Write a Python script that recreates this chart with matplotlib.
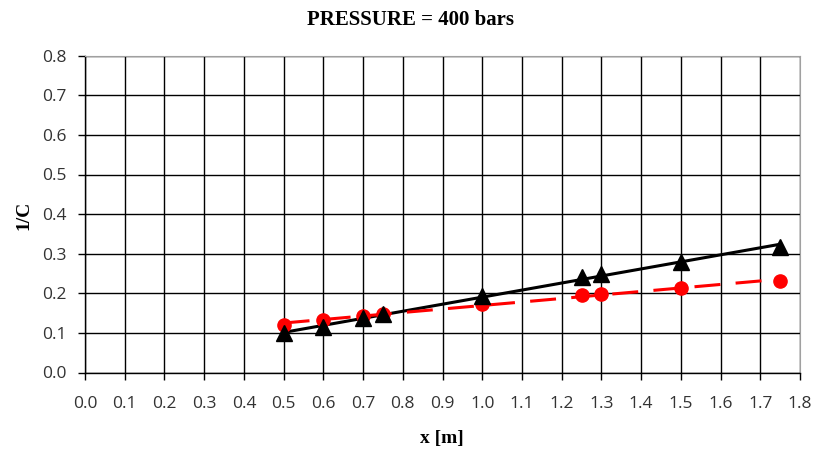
import numpy as np
import matplotlib
matplotlib.use("Agg")
import matplotlib.pyplot as plt

# Measurements at 400 bar
x_tri = [0.5, 0.6, 0.7, 0.75, 1.0, 1.25, 1.3, 1.5, 1.75]
inv_c_tri = [0.100, 0.114, 0.137, 0.147, 0.192, 0.241, 0.248, 0.278, 0.318]

x_circ = [0.5, 0.6, 0.7, 0.75, 1.0, 1.25, 1.3, 1.5, 1.75]
inv_c_circ = [0.121, 0.132, 0.143, 0.147, 0.174, 0.195, 0.199, 0.213, 0.230]

title = "PRESSURE = 400 bars"
xlabel = "x [m]"
ylabel = "1/C"

fig = plt.figure(figsize=(8.17, 4.55), dpi=100)
ax = fig.add_axes([85 / 817, (455 - 372.5) / 455, (800 - 85) / 817, (372.5 - 55.7) / 455])

ax.set_xlim(0, 1.8)
ax.set_ylim(0, 0.8)
ax.set_xticks(np.arange(0, 1.81, 0.1))
ax.set_yticks(np.arange(0, 0.81, 0.1))
ax.set_xticklabels([f"{v:.1f}" for v in np.arange(0, 1.81, 0.1)])
ax.set_yticklabels([f"{v:.1f}" for v in np.arange(0, 0.81, 0.1)])
ax.grid(True, color="black", linewidth=1.0)
ax.set_axisbelow(True)

for side in ("top", "right"):
    ax.spines[side].set_color("#a0a0a0")
for side in ("left", "bottom"):
    ax.spines[side].set_color("black")
    ax.spines[side].set_linewidth(1.0)

ax.tick_params(direction="out", length=5, width=1, colors="black",
               labelsize=12.5)
ax.tick_params(axis="x", pad=12)
ax.tick_params(axis="y", pad=8)
for lab in ax.get_xticklabels() + ax.get_yticklabels():
    lab.set_color("#333333")
    lab.set_family(["Open Sans", "DejaVu Sans"])

# linear trend lines
xs = np.array([0.5, 1.75])
p_tri = np.polyfit(x_tri, inv_c_tri, 1)
p_circ = np.polyfit(x_circ, inv_c_circ, 1)
ax.plot(xs, np.polyval(p_tri, xs), color="black", linewidth=2.2, zorder=3)
ax.plot(xs, np.polyval(p_circ, xs), color="#ff0000", linewidth=2.2,
        dashes=(8.5, 5), zorder=3)

ax.plot(x_circ, inv_c_circ, linestyle="none", marker="o", markersize=9.5,
        color="#ff0000", zorder=4)
ax.plot(x_tri, inv_c_tri, linestyle="none", marker="^", markersize=11,
        color="black", zorder=5)

serif = ["Liberation Serif", "DejaVu Serif"]
fig.text(0.5 + 2 / 817, 1 - 20 / 455, title, ha="center", va="center",
         fontsize=15, fontweight="bold", family=serif)
fig.text((442) / 817, 1 - 438 / 455, xlabel, ha="center", va="center",
         fontsize=14, fontweight="bold", family=serif)
fig.text(24 / 817, 1 - 215 / 455, ylabel, ha="center", va="center",
         rotation=90, fontsize=14, fontweight="bold", family=serif)

fig.savefig("out.png", dpi=100)
